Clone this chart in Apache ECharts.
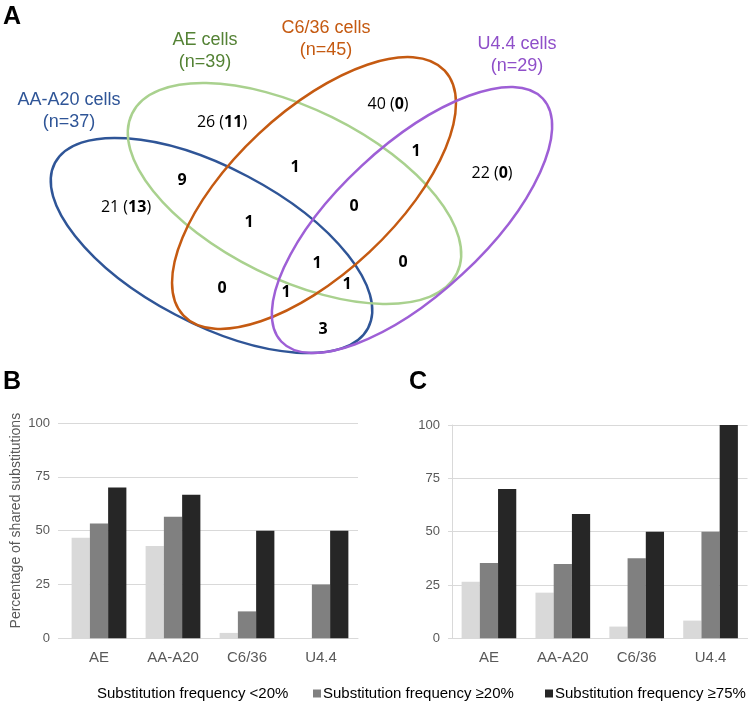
<!DOCTYPE html>
<html><head><meta charset="utf-8">
<script src="https://cdn.jsdelivr.net/npm/echarts@6/dist/echarts.min.js"></script>
<style>html,body{margin:0;padding:0;background:#fff}#c{width:750px;height:704px}</style>
</head><body><div id="c"></div>
<script>
// ---------- data ----------
const categories = ['AE', 'AA-A20', 'C6/36', 'U4.4'];
const seriesNames = ['Substitution frequency <20%', 'Substitution frequency \u226520%', 'Substitution frequency \u226575%'];
const panelB_lt20 = [46.7, 42.9, 2.5, 0];
const panelB_ge20 = [53.3, 56.5, 12.5, 25];
const panelB_ge75 = [70, 66.7, 50, 50];
const panelC_lt20 = [26.5, 21.4, 5.5, 8.3];
const panelC_ge20 = [35.3, 34.8, 37.5, 50];
const panelC_ge75 = [70, 58.3, 50, 100];
const yAxisName = 'Percentage of shared substitutions';
const panelLetters = ['A', 'B', 'C'];
const vennSetNames = ['AA-A20 cells', 'AE cells', 'C6/36 cells', 'U4.4 cells'];
const vennSetSizes = [37, 39, 45, 29];
// region counts (total) and, where shown, count in brackets
const vennRegionCounts = [21, 9, 26, 1, 40, 1, 22, 1, 0, 1, 0, 0, 1, 1, 3];
const vennRegionBracket = [13, null, 11, null, 0, null, 0, null, null, null, null, null, null, null, null];

// ---------- layout / style ----------
const vennColors = ['#2f5597', '#a9d18e', '#c55a11', '#9e5fd6'];
const vennLabelColors = ['#2f5597', '#548235', '#c55a11', '#8f4fc9'];
const vennEllipses = [
  {cx: 211.5, cy: 245.5, rx: 177, ry: 78, deg: -27.8},
  {cx: 294.5, cy: 193.5, rx: 181, ry: 85, deg: -26.2},
  {cx: 314, cy: 193, rx: 179, ry: 81, deg: 43.1},
  {cx: 412, cy: 220, rx: 178.5, ry: 74, deg: 42.9}
];
const vennLabelPos = [[69, 100, 122], [205, 40, 62], [326, 28, 50], [517, 44, 66]];
const vennRegionPos = [[126, 207], [182, 180], [222, 122], [295, 167], [388, 104], [416, 151], [492, 173],
  [249, 222], [354, 206], [317, 263], [403, 262], [222, 288], [286, 292], [347, 284], [323, 329]];
const letterPos = [[3, 17], [3, 382], [409, 382]];
const legendLeft = [87, 313, 545];
const barColors = ['#d9d9d9', '#808080', '#262626'];
const legendIconColors = ['rgba(255,255,255,0)', '#808080', '#262626'];
const gray = '#595959';
const gridColor = '#d9d9d9';

const graphics = [];
vennEllipses.forEach((e, i) => {
  graphics.push({
    type: 'ellipse', x: e.cx, y: e.cy, rotation: e.deg * Math.PI / 180,
    shape: {cx: 0, cy: 0, rx: e.rx, ry: e.ry},
    style: {fill: null, stroke: vennColors[i], lineWidth: 2.5}, z: 10
  });
});
vennSetNames.forEach((n, i) => {
  const p = vennLabelPos[i];
  graphics.push({type: 'text', x: p[0], y: p[1], z: 20,
    style: {text: n, fill: vennLabelColors[i], font: '18px "Liberation Sans", Arial, sans-serif', textAlign: 'center', textVerticalAlign: 'middle'}});
  graphics.push({type: 'text', x: p[0], y: p[2], z: 20,
    style: {text: '(n=' + vennSetSizes[i] + ')', fill: vennLabelColors[i], font: '18px "Liberation Sans", Arial, sans-serif', textAlign: 'center', textVerticalAlign: 'middle'}});
});
vennRegionCounts.forEach((c, i) => {
  const p = vennRegionPos[i];
  const br = vennRegionBracket[i];
  const txt = br === null ? '{b|' + c + '}' : '{n|' + c + ' (}{b|' + br + '}{n|)}';
  graphics.push({type: 'text', x: p[0], y: p[1], z: 20,
    style: {text: txt, textAlign: 'center', textVerticalAlign: 'middle',
      rich: {
        n: {fontFamily: '"Open Sans", sans-serif', fontSize: 16, fill: '#000', color: '#000'},
        b: {fontFamily: '"Open Sans", sans-serif', fontSize: 16, fontWeight: 'bold', fill: '#000', color: '#000'}
      }}});
});
panelLetters.forEach((l, i) => {
  graphics.push({type: 'text', x: letterPos[i][0], y: letterPos[i][1], z: 20,
    style: {text: l, fill: '#000', font: 'bold 25px "Liberation Sans", Arial, sans-serif', textAlign: 'left', textVerticalAlign: 'middle'}});
});

function yAxis(gridIndex, showLine, withName) {
  return {
    type: 'value', gridIndex, min: 0, max: 100, interval: 25,
    axisLine: {show: showLine, lineStyle: {color: gridColor, width: 1}},
    axisTick: {show: true, length: 4, lineStyle: {color: gridColor}},
    splitLine: {show: true, lineStyle: {color: gridColor, width: 1}},
    axisLabel: {color: gray, fontSize: 13, fontFamily: '"Liberation Sans", Arial, sans-serif', margin: 12},
    name: withName ? yAxisName : '',
    nameLocation: 'middle', nameGap: 39,
    nameTextStyle: {color: gray, fontSize: 14, fontFamily: '"Liberation Sans", Arial, sans-serif', padding: [0, 0, 0, 20]}
  };
}
function xAxis(gridIndex) {
  return {
    type: 'category', gridIndex, data: categories,
    axisLine: {show: true, lineStyle: {color: gridColor, width: 1}},
    axisTick: {show: false},
    axisLabel: {color: gray, fontSize: 15, fontFamily: '"Liberation Sans", Arial, sans-serif', margin: 12}
  };
}
function bar(name, idx, data, color) {
  return {type: 'bar', name, xAxisIndex: idx, yAxisIndex: idx, data,
    itemStyle: {color}, barGap: '0%', barCategoryGap: '26%', z: 2};
}
function legend(i) {
  return {
    top: 686, left: legendLeft[i], itemWidth: 8, itemHeight: 8, padding: 0,
    textStyle: {color: '#000', fontSize: 15, fontFamily: '"Liberation Sans", Arial, sans-serif', padding: [0, 0, 0, -3]},
    selectedMode: false,
    data: [{name: seriesNames[i], icon: 'rect', itemStyle: {color: legendIconColors[i]}}]
  };
}

const option = {
  animation: false,
  backgroundColor: '#fff',
  grid: [
    {left: 62, width: 296, top: 423, height: 215.3},
    {left: 452, width: 295.5, top: 425, height: 213.3}
  ],
  xAxis: [xAxis(0), xAxis(1)],
  yAxis: [yAxis(0, false, true), yAxis(1, true, false)],
  legend: [legend(0), legend(1), legend(2)],
  series: [
    bar(seriesNames[0], 0, panelB_lt20, barColors[0]),
    bar(seriesNames[1], 0, panelB_ge20, barColors[1]),
    bar(seriesNames[2], 0, panelB_ge75, barColors[2]),
    bar(seriesNames[0], 1, panelC_lt20, barColors[0]),
    bar(seriesNames[1], 1, panelC_ge20, barColors[1]),
    bar(seriesNames[2], 1, panelC_ge75, barColors[2])
  ],
  graphic: {elements: graphics}
};
const chart = echarts.init(document.getElementById('c'), null, {renderer: 'canvas'});
chart.setOption(option);
</script></body></html>
